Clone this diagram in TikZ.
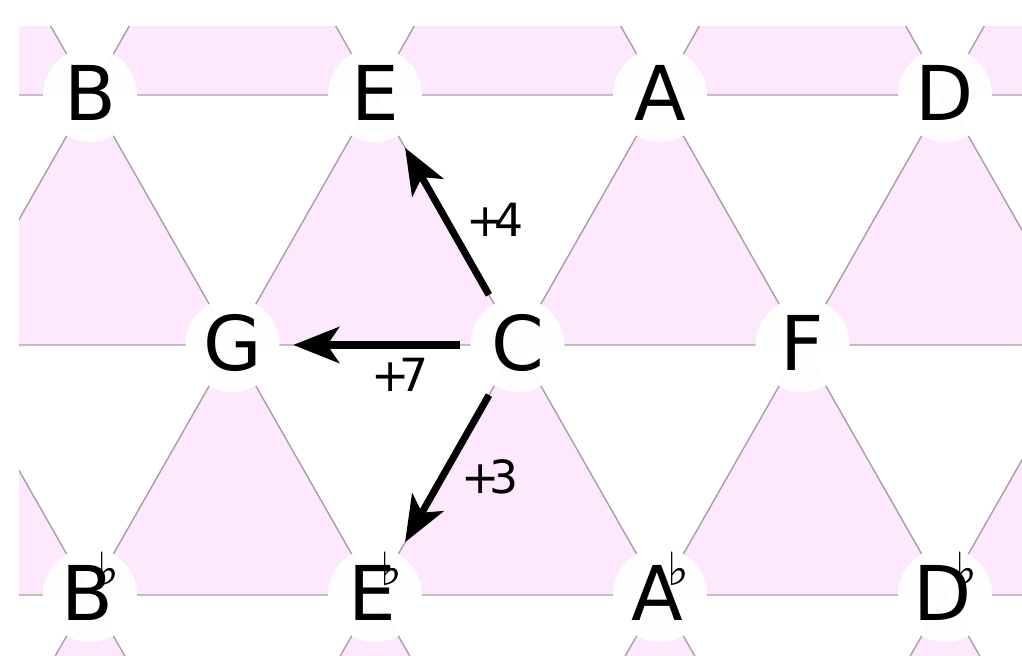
\documentclass[tikz,border=0pt]{standalone}
\usepackage{fontspec}
\setmainfont{DejaVu Sans}
\usepackage{tikz}
\usetikzlibrary{arrows.meta}
\definecolor{TriPink}{RGB}{253,232,253}
\definecolor{TriEdge}{RGB}{168,158,168}
\newcommand{\flatnote}[1]{#1\kern-4.5pt\raisebox{10pt}{\fontsize{13}{13}\selectfont ♭}}
\newcommand{\upby}[1]{+\kern-3pt#1}

\begin{document}
\begin{tikzpicture}[>={Stealth[length=4.6mm,width=3.6mm,inset=1.2mm]},every node/.style={font=\fontsize{21.5}{24}\selectfont}]
\tikzset{note/.style={circle,fill=white,fill opacity=0.97,text opacity=1,minimum size=9.4mm,inner sep=0pt,text height=16pt,text depth=1.4pt},interval/.style={font=\fontsize{13}{15}\selectfont,inner sep=1pt},move/.style={->,line width=2pt,shorten >=1.3mm,shorten <=1mm}}
\useasboundingbox (0,0) rectangle (10.22,6.56);
% triangle lattice, upward triangles filled
\begin{scope}
\clip (0.19,0) rectangle (10.22,6.29);
\foreach \j/\off in {-1/1.425,0/0,1/1.425,2/0}{
  \foreach \k in {-1,...,3}{
    \filldraw[fill=TriPink,draw=TriEdge,line width=0.4pt]
      ({0.90+\off+2.85*\k},{0.61+2.5*\j}) -- ++(2.85,0) -- ++(-1.425,2.5) -- cycle;
  }
}
\end{scope}
% notes
\node[note] (nB) at (0.90,5.61) {B};
\node[note] (nE) at (3.75,5.61) {E};
\node[note] (nA) at (6.60,5.61) {A};
\node[note] (nD) at (9.45,5.61) {D};
\node[note] (nG) at (2.325,3.11) {G};
\node[note] (nC) at (5.175,3.11) {C};
\node[note] (nF) at (8.025,3.11) {F};
\node[note] (nBb) at (0.90,0.61) {\flatnote{B}};
\node[note] (nEb) at (3.75,0.61) {\flatnote{E}};
\node[note] (nAb) at (6.60,0.61) {\flatnote{A}};
\node[note] (nDb) at (9.45,0.61) {\flatnote{D}};
% intervals from C
\draw[move] (nC) -- (nE) node[interval,midway,right=1.3mm] {\upby{4}};
\draw[move] (nC) -- (nG) node[interval,pos=0.37,below=0.6mm] {\upby{7}};
\draw[move] (nC) -- (nEb) node[interval,midway,right=0.8mm,yshift=-0.7mm] {\upby{3}};
\end{tikzpicture}
\end{document}
